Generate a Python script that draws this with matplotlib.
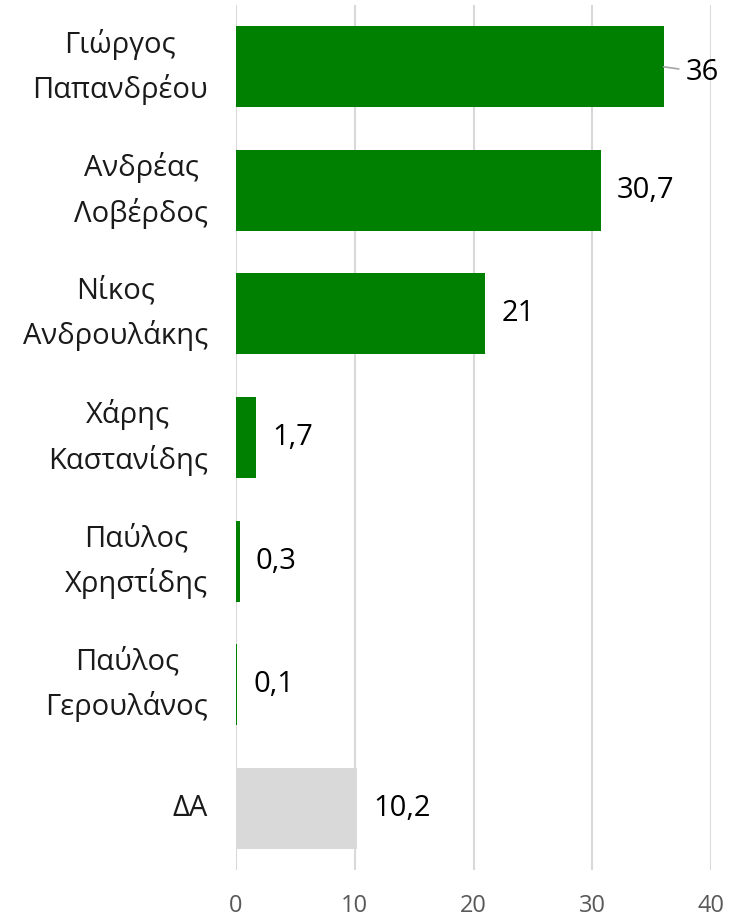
import matplotlib
matplotlib.use("Agg")
import matplotlib.pyplot as plt

plt.rcParams['font.family'] = ['Open Sans', 'DejaVu Sans']

names = ["Γιώργος\nΠαπανδρέου", "Ανδρέας\nΛοβέρδος", "Νίκος\nΑνδρουλάκης",
         "Χάρης\nΚαστανίδης", "Παύλος\nΧρηστίδης", "Παύλος\nΓερουλάνος", "ΔΑ"]
values = [36, 30.7, 21, 1.7, 0.3, 0.1, 10.2]
colors = ["#008000"] * 6 + ["#d9d9d9"]
xticks = [0, 10, 20, 30, 40]

fig = plt.figure(figsize=(7.31, 9.16), dpi=100)
ax = fig.add_axes([236 / 731, 46 / 916, 475 / 731, 865 / 916])

pos = list(range(len(names)))
ax.barh(pos, values, height=0.655, color=colors, zorder=2)

ax.set_xlim(0, 40)
ax.set_ylim(len(names) - 0.5, -0.5)
ax.set_xticks(xticks)
ax.set_xticklabels([str(t) for t in xticks])
ax.xaxis.grid(True, color="#d9d9d9", linewidth=1.5, zorder=0)
ax.set_axisbelow(True)
for s in ax.spines.values():
    s.set_visible(False)
ax.tick_params(axis='x', length=0, pad=17, labelsize=17, labelcolor="#595959")
ax.tick_params(axis='y', length=0, pad=20, labelsize=21, labelcolor="#1a1a1a")
ax.set_yticks(pos)
ax.set_yticklabels(names)
for lbl in ax.get_yticklabels():
    lbl.set_multialignment('center')
    lbl.set_linespacing(1.6)
    lbl.set_verticalalignment('center')

for i, v in enumerate(values):
    txt = f"{v:g}".replace('.', ',')
    if i == 0:
        ax.annotate(txt, xy=(v, i), xytext=(16, -4), textcoords='offset points',
                    ha='left', va='center', fontsize=21, color='black',
                    arrowprops=dict(arrowstyle='-', color='#a6a6a6', lw=1.2,
                                    shrinkA=3, shrinkB=0))
    else:
        ax.annotate(txt, xy=(v, i), xytext=(11.5, 0), textcoords='offset points',
                    ha='left', va='center', fontsize=21, color='black')

fig.savefig("out.png", dpi=100)
